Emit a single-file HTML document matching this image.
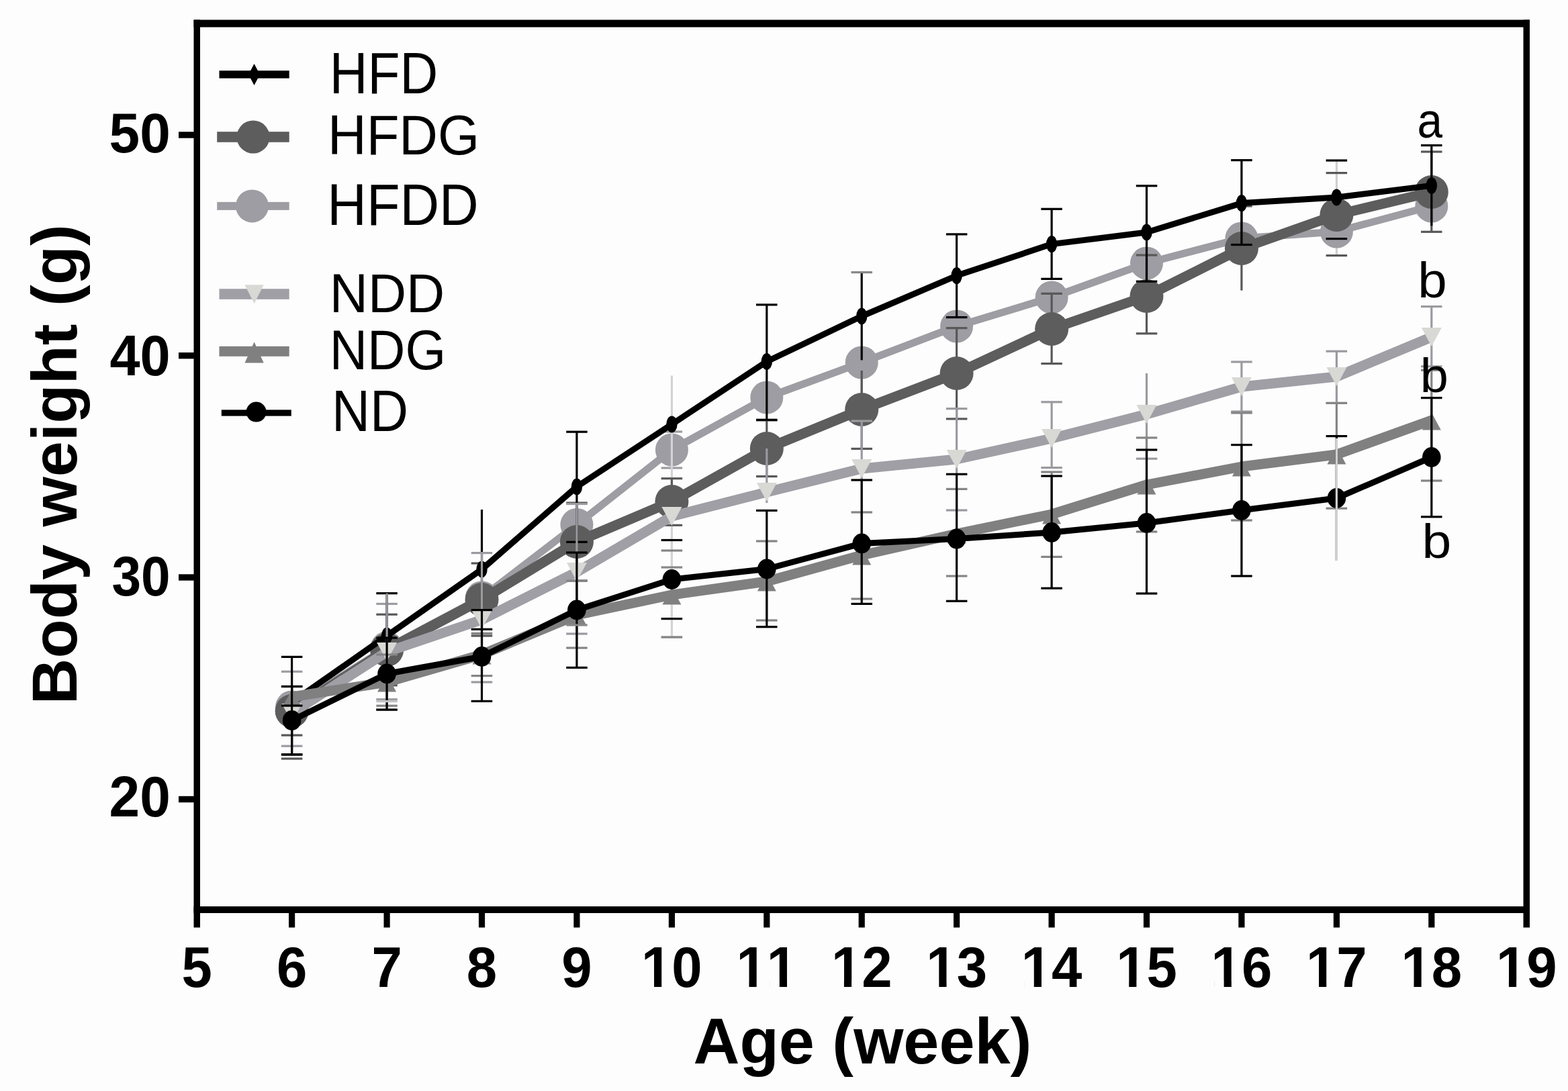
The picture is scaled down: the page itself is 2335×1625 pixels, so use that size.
<!DOCTYPE html>
<html><head><meta charset="utf-8"><title>Body weight chart</title>
<style>html,body{margin:0;padding:0;background:#fefdfd;}svg{display:block;}</style>
</head><body>
<svg width="2335" height="1625" viewBox="0 0 2335 1625">
<rect width="2335" height="1625" fill="#fefdfd"/>
<g id="plot">
<rect x="1988.8" y="239.0" width="3.2" height="141.0" fill="#cfcfd2"/>
<rect x="998.8" y="805.0" width="3.2" height="116.0" fill="#e6dede"/>
<rect x="433.0" y="1000.3" width="3.2" height="110.9" fill="#9c9ca2"/>
<rect x="418.9" y="998.7" width="31.5" height="3.2" fill="#9c9ca2"/>
<rect x="418.9" y="1109.6" width="31.5" height="3.2" fill="#9c9ca2"/>
<rect x="574.5" y="899.4" width="3.2" height="142.3" fill="#9c9ca2"/>
<rect x="560.3" y="897.8" width="31.5" height="3.2" fill="#9c9ca2"/>
<rect x="560.3" y="1040.1" width="31.5" height="3.2" fill="#9c9ca2"/>
<rect x="998.8" y="643.0" width="3.2" height="54.0" fill="#9c9ca2"/>
<rect x="984.6" y="641.4" width="31.5" height="3.2" fill="#9c9ca2"/>
<rect x="984.6" y="695.4" width="31.5" height="3.2" fill="#9c9ca2"/>
<rect x="1281.6" y="540.0" width="3.2" height="88.0" fill="#9c9ca2"/>
<rect x="1267.5" y="626.4" width="31.5" height="3.2" fill="#9c9ca2"/>
<polyline points="434.6,1053.0 576.1,965.0 717.5,890.0 858.9,781.5 1000.4,670.0 1141.8,592.0 1283.2,540.0 1424.6,486.0 1566.1,443.0 1707.5,392.0 1848.9,355.0 1990.4,345.0 2131.8,307.0" fill="none" stroke="#9d9da3" stroke-width="11" stroke-linejoin="round" stroke-linecap="butt"/>
<circle cx="434.6" cy="1053.0" r="24.5" fill="#9d9da3"/>
<circle cx="576.1" cy="965.0" r="24.5" fill="#9d9da3"/>
<circle cx="717.5" cy="890.0" r="24.5" fill="#9d9da3"/>
<circle cx="858.9" cy="781.5" r="24.5" fill="#9d9da3"/>
<circle cx="1000.4" cy="670.0" r="24.5" fill="#9d9da3"/>
<circle cx="1141.8" cy="592.0" r="24.5" fill="#9d9da3"/>
<circle cx="1283.2" cy="540.0" r="24.5" fill="#9d9da3"/>
<circle cx="1424.6" cy="486.0" r="24.5" fill="#9d9da3"/>
<circle cx="1566.1" cy="443.0" r="24.5" fill="#9d9da3"/>
<circle cx="1707.5" cy="392.0" r="24.5" fill="#9d9da3"/>
<circle cx="1848.9" cy="355.0" r="24.5" fill="#9d9da3"/>
<circle cx="1990.4" cy="345.0" r="24.5" fill="#9d9da3"/>
<circle cx="2131.8" cy="307.0" r="24.5" fill="#9d9da3"/>
<rect x="998.8" y="559.5" width="3.2" height="389.5" fill="#d4d2d6"/>
<rect x="984.6" y="947.4" width="31.5" height="3.2" fill="#d4d2d6"/>
<rect x="433.0" y="1022.5" width="3.2" height="72.6" fill="#585858"/>
<rect x="418.9" y="1020.9" width="31.5" height="3.2" fill="#585858"/>
<rect x="418.9" y="1093.5" width="31.5" height="3.2" fill="#585858"/>
<rect x="574.5" y="915.2" width="3.2" height="105.6" fill="#585858"/>
<rect x="560.3" y="913.6" width="31.5" height="3.2" fill="#585858"/>
<rect x="560.3" y="1019.2" width="31.5" height="3.2" fill="#585858"/>
<rect x="715.9" y="839.0" width="3.2" height="108.0" fill="#585858"/>
<rect x="701.7" y="837.4" width="31.5" height="3.2" fill="#585858"/>
<rect x="701.7" y="945.4" width="31.5" height="3.2" fill="#585858"/>
<rect x="857.3" y="749.0" width="3.2" height="116.0" fill="#585858"/>
<rect x="843.2" y="747.4" width="31.5" height="3.2" fill="#585858"/>
<rect x="843.2" y="863.4" width="31.5" height="3.2" fill="#585858"/>
<rect x="998.8" y="712.7" width="3.2" height="69.6" fill="#585858"/>
<rect x="984.6" y="711.1" width="31.5" height="3.2" fill="#585858"/>
<rect x="984.6" y="780.7" width="31.5" height="3.2" fill="#585858"/>
<rect x="1140.2" y="626.0" width="3.2" height="83.6" fill="#585858"/>
<rect x="1126.0" y="624.4" width="31.5" height="3.2" fill="#585858"/>
<rect x="1126.0" y="708.0" width="31.5" height="3.2" fill="#585858"/>
<rect x="1281.6" y="552.0" width="3.2" height="116.4" fill="#585858"/>
<rect x="1267.5" y="666.8" width="31.5" height="3.2" fill="#585858"/>
<rect x="1423.0" y="488.6" width="3.2" height="135.3" fill="#585858"/>
<rect x="1408.9" y="487.0" width="31.5" height="3.2" fill="#585858"/>
<rect x="1408.9" y="622.3" width="31.5" height="3.2" fill="#585858"/>
<rect x="1564.5" y="437.3" width="3.2" height="104.3" fill="#585858"/>
<rect x="1550.3" y="435.7" width="31.5" height="3.2" fill="#585858"/>
<rect x="1550.3" y="540.0" width="31.5" height="3.2" fill="#585858"/>
<rect x="1705.9" y="380.0" width="3.2" height="116.8" fill="#585858"/>
<rect x="1691.8" y="378.4" width="31.5" height="3.2" fill="#585858"/>
<rect x="1691.8" y="495.2" width="31.5" height="3.2" fill="#585858"/>
<rect x="1847.3" y="307.0" width="3.2" height="125.6" fill="#585858"/>
<rect x="1833.2" y="305.4" width="31.5" height="3.2" fill="#585858"/>
<rect x="1974.6" y="256.0" width="31.5" height="3.2" fill="#585858"/>
<rect x="1974.6" y="379.0" width="31.5" height="3.2" fill="#585858"/>
<rect x="2130.2" y="226.0" width="3.2" height="119.3" fill="#585858"/>
<rect x="2116.0" y="224.4" width="31.5" height="3.2" fill="#585858"/>
<rect x="2116.0" y="343.7" width="31.5" height="3.2" fill="#585858"/>
<polyline points="434.6,1059.0 576.1,968.0 717.5,893.0 858.9,807.0 1000.4,747.0 1141.8,668.0 1283.2,610.0 1424.6,556.0 1566.1,490.0 1707.5,441.0 1848.9,370.0 1990.4,320.0 2131.8,286.0" fill="none" stroke="#5d5d5d" stroke-width="15" stroke-linejoin="round" stroke-linecap="butt"/>
<circle cx="434.6" cy="1059.0" r="25" fill="#5d5d5d"/>
<circle cx="576.1" cy="968.0" r="25" fill="#5d5d5d"/>
<circle cx="717.5" cy="893.0" r="25" fill="#5d5d5d"/>
<circle cx="858.9" cy="807.0" r="25" fill="#5d5d5d"/>
<circle cx="1000.4" cy="747.0" r="25" fill="#5d5d5d"/>
<circle cx="1141.8" cy="668.0" r="25" fill="#5d5d5d"/>
<circle cx="1283.2" cy="610.0" r="25" fill="#5d5d5d"/>
<circle cx="1424.6" cy="556.0" r="25" fill="#5d5d5d"/>
<circle cx="1566.1" cy="490.0" r="25" fill="#5d5d5d"/>
<circle cx="1707.5" cy="441.0" r="25" fill="#5d5d5d"/>
<circle cx="1848.9" cy="370.0" r="25" fill="#5d5d5d"/>
<circle cx="1990.4" cy="320.0" r="25" fill="#5d5d5d"/>
<circle cx="2131.8" cy="286.0" r="25" fill="#5d5d5d"/>
<rect x="433.0" y="978.4" width="3.2" height="145.5" fill="#000000"/>
<rect x="418.9" y="976.8" width="31.5" height="3.2" fill="#000000"/>
<rect x="418.9" y="1122.3" width="31.5" height="3.2" fill="#000000"/>
<rect x="574.5" y="883.7" width="3.2" height="126.6" fill="#000000"/>
<rect x="560.3" y="882.1" width="31.5" height="3.2" fill="#000000"/>
<rect x="560.3" y="1008.7" width="31.5" height="3.2" fill="#000000"/>
<rect x="715.9" y="759.0" width="3.2" height="178.3" fill="#000000"/>
<rect x="701.7" y="935.7" width="31.5" height="3.2" fill="#000000"/>
<rect x="857.3" y="643.2" width="3.2" height="164.1" fill="#000000"/>
<rect x="843.2" y="641.6" width="31.5" height="3.2" fill="#000000"/>
<rect x="843.2" y="805.7" width="31.5" height="3.2" fill="#000000"/>
<rect x="1140.2" y="453.9" width="3.2" height="171.4" fill="#000000"/>
<rect x="1126.0" y="452.3" width="31.5" height="3.2" fill="#000000"/>
<rect x="1126.0" y="623.7" width="31.5" height="3.2" fill="#000000"/>
<rect x="1281.6" y="405.6" width="3.2" height="130.8" fill="#000000"/>
<rect x="1423.0" y="348.9" width="3.2" height="123.7" fill="#000000"/>
<rect x="1408.9" y="347.3" width="31.5" height="3.2" fill="#000000"/>
<rect x="1408.9" y="471.0" width="31.5" height="3.2" fill="#000000"/>
<rect x="1564.5" y="311.3" width="3.2" height="104.1" fill="#000000"/>
<rect x="1550.3" y="309.7" width="31.5" height="3.2" fill="#000000"/>
<rect x="1550.3" y="413.8" width="31.5" height="3.2" fill="#000000"/>
<rect x="1705.9" y="276.8" width="3.2" height="142.4" fill="#000000"/>
<rect x="1691.8" y="275.2" width="31.5" height="3.2" fill="#000000"/>
<rect x="1691.8" y="417.6" width="31.5" height="3.2" fill="#000000"/>
<rect x="1847.3" y="238.6" width="3.2" height="125.9" fill="#000000"/>
<rect x="1833.2" y="237.0" width="31.5" height="3.2" fill="#000000"/>
<rect x="1833.2" y="362.9" width="31.5" height="3.2" fill="#000000"/>
<rect x="1974.6" y="237.4" width="31.5" height="3.2" fill="#000000"/>
<rect x="1974.6" y="354.0" width="31.5" height="3.2" fill="#000000"/>
<rect x="2130.2" y="216.5" width="3.2" height="119.8" fill="#000000"/>
<rect x="2116.0" y="214.9" width="31.5" height="3.2" fill="#000000"/>
<polyline points="434.6,1046.0 576.1,947.0 717.5,848.0 858.9,725.0 1000.4,632.0 1141.8,538.5 1283.2,471.0 1424.6,410.6 1566.1,363.6 1707.5,346.0 1848.9,302.6 1990.4,294.0 2131.8,276.4" fill="none" stroke="#000000" stroke-width="9" stroke-linejoin="round" stroke-linecap="butt"/>
<ellipse cx="434.6" cy="1046.0" rx="8.2" ry="12.5" fill="#000"/>
<ellipse cx="576.1" cy="947.0" rx="8.2" ry="12.5" fill="#000"/>
<ellipse cx="717.5" cy="848.0" rx="8.2" ry="12.5" fill="#000"/>
<ellipse cx="858.9" cy="725.0" rx="8.2" ry="12.5" fill="#000"/>
<ellipse cx="1000.4" cy="632.0" rx="8.2" ry="12.5" fill="#000"/>
<ellipse cx="1141.8" cy="538.5" rx="8.2" ry="12.5" fill="#000"/>
<ellipse cx="1283.2" cy="471.0" rx="8.2" ry="12.5" fill="#000"/>
<ellipse cx="1424.6" cy="410.6" rx="8.2" ry="12.5" fill="#000"/>
<ellipse cx="1566.1" cy="363.6" rx="8.2" ry="12.5" fill="#000"/>
<ellipse cx="1707.5" cy="346.0" rx="8.2" ry="12.5" fill="#000"/>
<ellipse cx="1848.9" cy="302.6" rx="8.2" ry="12.5" fill="#000"/>
<ellipse cx="1990.4" cy="294.0" rx="8.2" ry="12.5" fill="#000"/>
<ellipse cx="2131.8" cy="276.4" rx="8.2" ry="12.5" fill="#000"/>
<rect x="574.5" y="883.7" width="3.2" height="173.4" fill="#9a9aa0"/>
<rect x="560.3" y="1055.5" width="31.5" height="3.2" fill="#9a9aa0"/>
<rect x="715.9" y="823.6" width="3.2" height="192.4" fill="#9a9aa0"/>
<rect x="701.7" y="822.0" width="31.5" height="3.2" fill="#9a9aa0"/>
<rect x="701.7" y="1014.4" width="31.5" height="3.2" fill="#9a9aa0"/>
<rect x="857.3" y="750.5" width="3.2" height="193.5" fill="#9a9aa0"/>
<rect x="843.2" y="748.9" width="31.5" height="3.2" fill="#9a9aa0"/>
<rect x="843.2" y="942.4" width="31.5" height="3.2" fill="#9a9aa0"/>
<rect x="1140.2" y="668.0" width="3.2" height="81.0" fill="#9a9aa0"/>
<rect x="1281.6" y="627.0" width="3.2" height="142.0" fill="#9a9aa0"/>
<rect x="1267.5" y="625.4" width="31.5" height="3.2" fill="#9a9aa0"/>
<rect x="1423.0" y="608.7" width="3.2" height="151.3" fill="#9a9aa0"/>
<rect x="1408.9" y="607.1" width="31.5" height="3.2" fill="#9a9aa0"/>
<rect x="1408.9" y="758.4" width="31.5" height="3.2" fill="#9a9aa0"/>
<rect x="1564.5" y="598.8" width="3.2" height="97.8" fill="#9a9aa0"/>
<rect x="1550.3" y="597.2" width="31.5" height="3.2" fill="#9a9aa0"/>
<rect x="1550.3" y="695.0" width="31.5" height="3.2" fill="#9a9aa0"/>
<rect x="1705.9" y="556.0" width="3.2" height="127.2" fill="#9a9aa0"/>
<rect x="1691.8" y="681.6" width="31.5" height="3.2" fill="#9a9aa0"/>
<rect x="1847.3" y="539.0" width="3.2" height="74.0" fill="#9a9aa0"/>
<rect x="1833.2" y="537.4" width="31.5" height="3.2" fill="#9a9aa0"/>
<rect x="1833.2" y="611.4" width="31.5" height="3.2" fill="#9a9aa0"/>
<rect x="1988.8" y="523.2" width="3.2" height="77.2" fill="#9a9aa0"/>
<rect x="1974.6" y="521.6" width="31.5" height="3.2" fill="#9a9aa0"/>
<rect x="1974.6" y="598.8" width="31.5" height="3.2" fill="#9a9aa0"/>
<rect x="2130.2" y="456.6" width="3.2" height="89.2" fill="#9a9aa0"/>
<rect x="2116.0" y="455.0" width="31.5" height="3.2" fill="#9a9aa0"/>
<rect x="2116.0" y="544.2" width="31.5" height="3.2" fill="#9a9aa0"/>
<polyline points="434.6,1062.0 576.1,971.0 717.5,923.0 858.9,852.0 1000.4,769.0 1141.8,733.0 1283.2,698.0 1424.6,684.0 1566.1,653.0 1707.5,617.0 1848.9,576.0 1990.4,561.0 2131.8,502.0" fill="none" stroke="#a09fa6" stroke-width="15" stroke-linejoin="round" stroke-linecap="butt"/>
<polygon points="419.6,1048.0 449.6,1048.0 434.6,1076.0" fill="#d8d8d4"/>
<polygon points="561.1,957.0 591.1,957.0 576.1,985.0" fill="#d8d8d4"/>
<polygon points="702.5,909.0 732.5,909.0 717.5,937.0" fill="#d8d8d4"/>
<polygon points="843.9,838.0 873.9,838.0 858.9,866.0" fill="#d8d8d4"/>
<polygon points="985.4,755.0 1015.4,755.0 1000.4,783.0" fill="#d8d8d4"/>
<polygon points="1126.8,719.0 1156.8,719.0 1141.8,747.0" fill="#d8d8d4"/>
<polygon points="1268.2,684.0 1298.2,684.0 1283.2,712.0" fill="#d8d8d4"/>
<polygon points="1409.6,670.0 1439.6,670.0 1424.6,698.0" fill="#d8d8d4"/>
<polygon points="1551.1,639.0 1581.1,639.0 1566.1,667.0" fill="#d8d8d4"/>
<polygon points="1692.5,603.0 1722.5,603.0 1707.5,631.0" fill="#d8d8d4"/>
<polygon points="1833.9,562.0 1863.9,562.0 1848.9,590.0" fill="#d8d8d4"/>
<polygon points="1975.4,547.0 2005.4,547.0 1990.4,575.0" fill="#d8d8d4"/>
<polygon points="2116.8,488.0 2146.8,488.0 2131.8,516.0" fill="#d8d8d4"/>
<rect x="574.5" y="975.0" width="3.2" height="76.2" fill="#858585"/>
<rect x="560.3" y="973.4" width="31.5" height="3.2" fill="#858585"/>
<rect x="560.3" y="1049.6" width="31.5" height="3.2" fill="#858585"/>
<rect x="715.9" y="943.4" width="3.2" height="63.2" fill="#858585"/>
<rect x="701.7" y="941.8" width="31.5" height="3.2" fill="#858585"/>
<rect x="701.7" y="1005.0" width="31.5" height="3.2" fill="#858585"/>
<rect x="857.3" y="865.0" width="3.2" height="100.0" fill="#858585"/>
<rect x="843.2" y="863.4" width="31.5" height="3.2" fill="#858585"/>
<rect x="843.2" y="963.4" width="31.5" height="3.2" fill="#858585"/>
<rect x="984.6" y="818.4" width="31.5" height="3.2" fill="#858585"/>
<rect x="984.6" y="947.4" width="31.5" height="3.2" fill="#858585"/>
<rect x="1140.2" y="806.0" width="3.2" height="118.0" fill="#858585"/>
<rect x="1126.0" y="804.4" width="31.5" height="3.2" fill="#858585"/>
<rect x="1126.0" y="922.4" width="31.5" height="3.2" fill="#858585"/>
<rect x="1281.6" y="763.0" width="3.2" height="129.0" fill="#858585"/>
<rect x="1267.5" y="761.4" width="31.5" height="3.2" fill="#858585"/>
<rect x="1267.5" y="890.4" width="31.5" height="3.2" fill="#858585"/>
<rect x="1423.0" y="728.4" width="3.2" height="129.6" fill="#858585"/>
<rect x="1408.9" y="726.8" width="31.5" height="3.2" fill="#858585"/>
<rect x="1408.9" y="856.4" width="31.5" height="3.2" fill="#858585"/>
<rect x="1564.5" y="703.0" width="3.2" height="126.4" fill="#858585"/>
<rect x="1550.3" y="701.4" width="31.5" height="3.2" fill="#858585"/>
<rect x="1550.3" y="827.8" width="31.5" height="3.2" fill="#858585"/>
<rect x="1705.9" y="652.0" width="3.2" height="140.0" fill="#858585"/>
<rect x="1691.8" y="650.4" width="31.5" height="3.2" fill="#858585"/>
<rect x="1691.8" y="790.4" width="31.5" height="3.2" fill="#858585"/>
<rect x="1847.3" y="615.0" width="3.2" height="160.0" fill="#858585"/>
<rect x="1833.2" y="613.4" width="31.5" height="3.2" fill="#858585"/>
<rect x="1833.2" y="773.4" width="31.5" height="3.2" fill="#858585"/>
<rect x="1988.8" y="600.4" width="3.2" height="156.8" fill="#858585"/>
<rect x="1974.6" y="598.8" width="31.5" height="3.2" fill="#858585"/>
<rect x="1974.6" y="755.6" width="31.5" height="3.2" fill="#858585"/>
<rect x="2130.2" y="551.3" width="3.2" height="164.7" fill="#858585"/>
<rect x="2116.0" y="549.7" width="31.5" height="3.2" fill="#858585"/>
<rect x="2116.0" y="714.4" width="31.5" height="3.2" fill="#858585"/>
<polyline points="434.6,1038.0 576.1,1016.0 717.5,975.0 858.9,916.0 1000.4,886.0 1141.8,866.0 1283.2,827.0 1424.6,795.0 1566.1,766.0 1707.5,722.0 1848.9,695.0 1990.4,677.0 2131.8,626.0" fill="none" stroke="#808080" stroke-width="15" stroke-linejoin="round" stroke-linecap="butt"/>
<polygon points="434.6,1026.5 448.6,1052.5 420.6,1052.5" fill="#808080"/>
<polygon points="576.1,1004.5 590.1,1030.5 562.1,1030.5" fill="#808080"/>
<polygon points="717.5,963.5 731.5,989.5 703.5,989.5" fill="#808080"/>
<polygon points="858.9,904.5 872.9,930.5 844.9,930.5" fill="#808080"/>
<polygon points="1000.4,874.5 1014.4,900.5 986.4,900.5" fill="#808080"/>
<polygon points="1141.8,854.5 1155.8,880.5 1127.8,880.5" fill="#808080"/>
<polygon points="1283.2,815.5 1297.2,841.5 1269.2,841.5" fill="#808080"/>
<polygon points="1424.6,783.5 1438.6,809.5 1410.6,809.5" fill="#808080"/>
<polygon points="1566.1,754.5 1580.1,780.5 1552.1,780.5" fill="#808080"/>
<polygon points="1707.5,710.5 1721.5,736.5 1693.5,736.5" fill="#808080"/>
<polygon points="1848.9,683.5 1862.9,709.5 1834.9,709.5" fill="#808080"/>
<polygon points="1990.4,665.5 2004.4,691.5 1976.4,691.5" fill="#808080"/>
<polygon points="2131.8,614.5 2145.8,640.5 2117.8,640.5" fill="#808080"/>
<rect x="433.0" y="1022.5" width="3.2" height="101.4" fill="#000000"/>
<rect x="418.9" y="1020.9" width="31.5" height="3.2" fill="#000000"/>
<rect x="418.9" y="1122.3" width="31.5" height="3.2" fill="#000000"/>
<rect x="574.5" y="950.0" width="3.2" height="107.1" fill="#000000"/>
<rect x="560.3" y="948.4" width="31.5" height="3.2" fill="#000000"/>
<rect x="560.3" y="1055.5" width="31.5" height="3.2" fill="#000000"/>
<rect x="715.9" y="908.6" width="3.2" height="135.8" fill="#000000"/>
<rect x="701.7" y="907.0" width="31.5" height="3.2" fill="#000000"/>
<rect x="701.7" y="1042.8" width="31.5" height="3.2" fill="#000000"/>
<rect x="857.3" y="823.0" width="3.2" height="171.4" fill="#000000"/>
<rect x="843.2" y="821.4" width="31.5" height="3.2" fill="#000000"/>
<rect x="843.2" y="992.8" width="31.5" height="3.2" fill="#000000"/>
<rect x="984.6" y="802.9" width="31.5" height="3.2" fill="#000000"/>
<rect x="984.6" y="920.0" width="31.5" height="3.2" fill="#000000"/>
<rect x="1140.2" y="760.4" width="3.2" height="173.3" fill="#000000"/>
<rect x="1126.0" y="758.8" width="31.5" height="3.2" fill="#000000"/>
<rect x="1126.0" y="932.1" width="31.5" height="3.2" fill="#000000"/>
<rect x="1281.6" y="715.0" width="3.2" height="184.4" fill="#000000"/>
<rect x="1267.5" y="713.4" width="31.5" height="3.2" fill="#000000"/>
<rect x="1267.5" y="897.8" width="31.5" height="3.2" fill="#000000"/>
<rect x="1423.0" y="706.3" width="3.2" height="189.0" fill="#000000"/>
<rect x="1408.9" y="704.7" width="31.5" height="3.2" fill="#000000"/>
<rect x="1408.9" y="893.7" width="31.5" height="3.2" fill="#000000"/>
<rect x="1564.5" y="709.0" width="3.2" height="167.2" fill="#000000"/>
<rect x="1550.3" y="707.4" width="31.5" height="3.2" fill="#000000"/>
<rect x="1550.3" y="874.6" width="31.5" height="3.2" fill="#000000"/>
<rect x="1705.9" y="670.0" width="3.2" height="214.0" fill="#000000"/>
<rect x="1691.8" y="668.4" width="31.5" height="3.2" fill="#000000"/>
<rect x="1691.8" y="882.4" width="31.5" height="3.2" fill="#000000"/>
<rect x="1847.3" y="662.6" width="3.2" height="195.4" fill="#000000"/>
<rect x="1833.2" y="661.0" width="31.5" height="3.2" fill="#000000"/>
<rect x="1833.2" y="856.4" width="31.5" height="3.2" fill="#000000"/>
<rect x="1988.8" y="649.6" width="3.2" height="185.4" fill="#000000"/>
<rect x="1974.6" y="648.0" width="31.5" height="3.2" fill="#000000"/>
<rect x="2130.2" y="592.6" width="3.2" height="177.2" fill="#000000"/>
<rect x="2116.0" y="591.0" width="31.5" height="3.2" fill="#000000"/>
<rect x="2116.0" y="768.2" width="31.5" height="3.2" fill="#000000"/>
<polyline points="434.6,1073.0 576.1,1003.5 717.5,978.0 858.9,908.5 1000.4,863.0 1141.8,847.5 1283.2,809.5 1424.6,802.6 1566.1,793.0 1707.5,779.0 1848.9,760.0 1990.4,742.0 2131.8,681.0" fill="none" stroke="#000000" stroke-width="9" stroke-linejoin="round" stroke-linecap="butt"/>
<ellipse cx="434.6" cy="1073.0" rx="13.8" ry="15" fill="#000"/>
<ellipse cx="576.1" cy="1003.5" rx="13.8" ry="15" fill="#000"/>
<ellipse cx="717.5" cy="978.0" rx="13.8" ry="15" fill="#000"/>
<ellipse cx="858.9" cy="908.5" rx="13.8" ry="15" fill="#000"/>
<ellipse cx="1000.4" cy="863.0" rx="13.8" ry="15" fill="#000"/>
<ellipse cx="1141.8" cy="847.5" rx="13.8" ry="15" fill="#000"/>
<ellipse cx="1283.2" cy="809.5" rx="13.8" ry="15" fill="#000"/>
<ellipse cx="1424.6" cy="802.6" rx="13.8" ry="15" fill="#000"/>
<ellipse cx="1566.1" cy="793.0" rx="13.8" ry="15" fill="#000"/>
<ellipse cx="1707.5" cy="779.0" rx="13.8" ry="15" fill="#000"/>
<ellipse cx="1848.9" cy="760.0" rx="13.8" ry="15" fill="#000"/>
<ellipse cx="1990.4" cy="742.0" rx="13.8" ry="15" fill="#000"/>
<ellipse cx="2131.8" cy="681.0" rx="13.8" ry="15" fill="#000"/>
<rect x="418.9" y="1049.4" width="31.5" height="3.2" fill="#000000"/>
<rect x="1267.5" y="404.0" width="31.5" height="3.2" fill="#888888"/>
<rect x="418.9" y="1128.4" width="31.5" height="3.2" fill="#555555"/>
<rect x="843.2" y="929.4" width="31.5" height="3.2" fill="#888888"/>
<rect x="984.6" y="843.4" width="31.5" height="3.2" fill="#888888"/>
<rect x="560.3" y="1043.0" width="31.5" height="3.2" fill="#c4c4c4"/>
<rect x="1988.8" y="653.0" width="3.2" height="182.0" fill="#cfcfd2"/>
</g>
<g id="legend">
<rect x="326.5" y="105.2" width="104.2" height="11.4" fill="#000"/>
<polygon points="378.5,95.0 387.0,111.0 378.5,127.0 370.0,111.0" fill="#000000"/>
<rect x="323.2" y="196.2" width="107.5" height="15.6" fill="#5d5d5d"/>
<circle cx="377.0" cy="204.0" r="24.5" fill="#5d5d5d"/>
<rect x="323.2" y="300.9" width="107.5" height="12" fill="#9d9da3"/>
<circle cx="375.5" cy="306.9" r="24.5" fill="#9d9da3"/>
<rect x="326.5" y="430.2" width="104.2" height="15.6" fill="#a09fa6"/>
<polygon points="364.5,424.2 392.7,424.2 378.6,452.2" fill="#d8d8d4"/>
<rect x="326.5" y="515.8" width="104.2" height="15" fill="#808080"/>
<polygon points="378.6,509.3 392.7,540.4 364.5,540.4" fill="#808080"/>
<rect x="329.8" y="610.4" width="104" height="9.2" fill="#000"/>
<circle cx="381.6" cy="613.6" r="15" fill="#000000"/>
<text transform="matrix(0.7855,0,0,0.8623,490.72,138.90)" style="font-family:'Liberation Sans',Arial,sans-serif;font-size:100px">HFD</text>
<text transform="matrix(0.7978,0,0,0.8394,488.02,229.76)" style="font-family:'Liberation Sans',Arial,sans-serif;font-size:100px">HFDG</text>
<text transform="matrix(0.8113,0,0,0.8652,487.31,334.90)" style="font-family:'Liberation Sans',Arial,sans-serif;font-size:100px">HFDD</text>
<text transform="matrix(0.7912,0,0,0.8188,490.77,464.50)" style="font-family:'Liberation Sans',Arial,sans-serif;font-size:100px">NDD</text>
<text transform="matrix(0.7802,0,0,0.8310,490.76,550.17)" style="font-family:'Liberation Sans',Arial,sans-serif;font-size:100px">NDG</text>
<text transform="matrix(0.7894,0,0,0.8623,493.88,641.70)" style="font-family:'Liberation Sans',Arial,sans-serif;font-size:100px">ND</text>
</g>
<g id="frame">

<rect x="288.5" y="29.5" width="1989.5" height="11" fill="#000"/>
<rect x="288.5" y="1350" width="1989.5" height="10" fill="#000"/>
<rect x="288.5" y="29.5" width="9.5" height="1352" fill="#000"/>
<rect x="2268.5" y="29.5" width="9.5" height="1352" fill="#000"/>

<rect x="430.0" y="1355" width="9.2" height="26.5" fill="#000"/>
<rect x="571.5" y="1355" width="9.2" height="26.5" fill="#000"/>
<rect x="712.9" y="1355" width="9.2" height="26.5" fill="#000"/>
<rect x="854.3" y="1355" width="9.2" height="26.5" fill="#000"/>
<rect x="995.8" y="1355" width="9.2" height="26.5" fill="#000"/>
<rect x="1137.2" y="1355" width="9.2" height="26.5" fill="#000"/>
<rect x="1278.6" y="1355" width="9.2" height="26.5" fill="#000"/>
<rect x="1420.0" y="1355" width="9.2" height="26.5" fill="#000"/>
<rect x="1561.5" y="1355" width="9.2" height="26.5" fill="#000"/>
<rect x="1702.9" y="1355" width="9.2" height="26.5" fill="#000"/>
<rect x="1844.3" y="1355" width="9.2" height="26.5" fill="#000"/>
<rect x="1985.8" y="1355" width="9.2" height="26.5" fill="#000"/>
<rect x="2127.2" y="1355" width="9.2" height="26.5" fill="#000"/>
<rect x="266" y="196.3" width="25" height="9.4" fill="#000"/>
<rect x="266" y="525.0" width="25" height="9.4" fill="#000"/>
<rect x="266" y="855.3" width="25" height="9.4" fill="#000"/>
<rect x="266" y="1185.8" width="25" height="9.4" fill="#000"/>
</g>
<g id="labels">
<g transform="matrix(0.8149,0,0,0.8543,293.20,1469.8)"><text x="0" y="0" text-anchor="middle" style="font-family:'Liberation Sans',Arial,sans-serif;font-weight:bold;font-kerning:none;font-size:100px">5</text></g>
<g transform="matrix(0.8149,0,0,0.8543,434.63,1469.8)"><text x="0" y="0" text-anchor="middle" style="font-family:'Liberation Sans',Arial,sans-serif;font-weight:bold;font-kerning:none;font-size:100px">6</text></g>
<g transform="matrix(0.8149,0,0,0.8543,576.06,1469.8)"><text x="0" y="0" text-anchor="middle" style="font-family:'Liberation Sans',Arial,sans-serif;font-weight:bold;font-kerning:none;font-size:100px">7</text></g>
<g transform="matrix(0.8149,0,0,0.8543,717.49,1469.8)"><text x="0" y="0" text-anchor="middle" style="font-family:'Liberation Sans',Arial,sans-serif;font-weight:bold;font-kerning:none;font-size:100px">8</text></g>
<g transform="matrix(0.8149,0,0,0.8543,858.92,1469.8)"><text x="0" y="0" text-anchor="middle" style="font-family:'Liberation Sans',Arial,sans-serif;font-weight:bold;font-kerning:none;font-size:100px">9</text></g>
<g transform="matrix(0.8149,0,0,0.8543,1000.35,1469.8)"><text x="0" y="0" text-anchor="middle" style="font-family:'Liberation Sans',Arial,sans-serif;font-weight:bold;font-kerning:none;font-size:100px">10</text><rect x="-50.00" y="-10.45" width="17.72" height="11.23" fill="#fefdfd"/><rect x="-18.55" y="-10.45" width="16.65" height="11.23" fill="#fefdfd"/></g>
<g transform="matrix(0.8149,0,0,0.8543,1141.78,1469.8)"><text x="0" y="0" text-anchor="middle" style="font-family:'Liberation Sans',Arial,sans-serif;font-weight:bold;font-kerning:none;font-size:100px">11</text><rect x="-50.00" y="-10.45" width="17.72" height="11.23" fill="#fefdfd"/><rect x="-18.55" y="-10.45" width="16.65" height="11.23" fill="#fefdfd"/><rect x="5.62" y="-10.45" width="17.72" height="11.23" fill="#fefdfd"/><rect x="37.06" y="-10.45" width="16.65" height="11.23" fill="#fefdfd"/></g>
<g transform="matrix(0.8149,0,0,0.8543,1283.21,1469.8)"><text x="0" y="0" text-anchor="middle" style="font-family:'Liberation Sans',Arial,sans-serif;font-weight:bold;font-kerning:none;font-size:100px">12</text><rect x="-50.00" y="-10.45" width="17.72" height="11.23" fill="#fefdfd"/><rect x="-18.55" y="-10.45" width="16.65" height="11.23" fill="#fefdfd"/></g>
<g transform="matrix(0.8149,0,0,0.8543,1424.64,1469.8)"><text x="0" y="0" text-anchor="middle" style="font-family:'Liberation Sans',Arial,sans-serif;font-weight:bold;font-kerning:none;font-size:100px">13</text><rect x="-50.00" y="-10.45" width="17.72" height="11.23" fill="#fefdfd"/><rect x="-18.55" y="-10.45" width="16.65" height="11.23" fill="#fefdfd"/></g>
<g transform="matrix(0.8149,0,0,0.8543,1566.07,1469.8)"><text x="0" y="0" text-anchor="middle" style="font-family:'Liberation Sans',Arial,sans-serif;font-weight:bold;font-kerning:none;font-size:100px">14</text><rect x="-50.00" y="-10.45" width="17.72" height="11.23" fill="#fefdfd"/><rect x="-18.55" y="-10.45" width="16.65" height="11.23" fill="#fefdfd"/></g>
<g transform="matrix(0.8149,0,0,0.8543,1707.50,1469.8)"><text x="0" y="0" text-anchor="middle" style="font-family:'Liberation Sans',Arial,sans-serif;font-weight:bold;font-kerning:none;font-size:100px">15</text><rect x="-50.00" y="-10.45" width="17.72" height="11.23" fill="#fefdfd"/><rect x="-18.55" y="-10.45" width="16.65" height="11.23" fill="#fefdfd"/></g>
<g transform="matrix(0.8149,0,0,0.8543,1848.93,1469.8)"><text x="0" y="0" text-anchor="middle" style="font-family:'Liberation Sans',Arial,sans-serif;font-weight:bold;font-kerning:none;font-size:100px">16</text><rect x="-50.00" y="-10.45" width="17.72" height="11.23" fill="#fefdfd"/><rect x="-18.55" y="-10.45" width="16.65" height="11.23" fill="#fefdfd"/></g>
<g transform="matrix(0.8149,0,0,0.8543,1990.36,1469.8)"><text x="0" y="0" text-anchor="middle" style="font-family:'Liberation Sans',Arial,sans-serif;font-weight:bold;font-kerning:none;font-size:100px">17</text><rect x="-50.00" y="-10.45" width="17.72" height="11.23" fill="#fefdfd"/><rect x="-18.55" y="-10.45" width="16.65" height="11.23" fill="#fefdfd"/></g>
<g transform="matrix(0.8149,0,0,0.8543,2131.79,1469.8)"><text x="0" y="0" text-anchor="middle" style="font-family:'Liberation Sans',Arial,sans-serif;font-weight:bold;font-kerning:none;font-size:100px">18</text><rect x="-50.00" y="-10.45" width="17.72" height="11.23" fill="#fefdfd"/><rect x="-18.55" y="-10.45" width="16.65" height="11.23" fill="#fefdfd"/></g>
<g transform="matrix(0.8149,0,0,0.8543,2273.22,1469.8)"><text x="0" y="0" text-anchor="middle" style="font-family:'Liberation Sans',Arial,sans-serif;font-weight:bold;font-kerning:none;font-size:100px">19</text><rect x="-50.00" y="-10.45" width="17.72" height="11.23" fill="#fefdfd"/><rect x="-18.55" y="-10.45" width="16.65" height="11.23" fill="#fefdfd"/></g>
<text transform="matrix(0.8202,0,0,0.8394,162.54,226.86)" style="font-family:'Liberation Sans',Arial,sans-serif;font-weight:bold;font-size:100px">50</text>
<text transform="matrix(0.8105,0,0,0.8465,163.38,558.75)" style="font-family:'Liberation Sans',Arial,sans-serif;font-weight:bold;font-size:100px">40</text>
<text transform="matrix(0.7838,0,0,0.8408,166.43,887.16)" style="font-family:'Liberation Sans',Arial,sans-serif;font-weight:bold;font-size:100px">30</text>
<text transform="matrix(0.8202,0,0,0.8437,162.54,1216.16)" style="font-family:'Liberation Sans',Arial,sans-serif;font-weight:bold;font-size:100px">20</text>
<text transform="matrix(0.9544,0,0,0.9606,1032.54,1584.23)" style="font-family:'Liberation Sans',Arial,sans-serif;font-weight:bold;font-size:100px">Age (week)</text>
<text transform="translate(113.57,1049.38) rotate(-90) scale(0.9539,0.9394)" style="font-family:'Liberation Sans',Arial,sans-serif;font-weight:bold;font-size:100px">Body weight (g)</text>
<text transform="matrix(0.6750,0,0,0.7436,2110.50,204.96)" style="font-family:'Liberation Sans',Arial,sans-serif;font-size:100px">a</text>
<text transform="matrix(0.7818,0,0,0.7356,2111.33,442.60)" style="font-family:'Liberation Sans',Arial,sans-serif;font-size:100px">b</text>
<text transform="matrix(0.7568,0,0,0.7260,2114.70,584.40)" style="font-family:'Liberation Sans',Arial,sans-serif;font-size:100px">b</text>
<text transform="matrix(0.7864,0,0,0.7288,2117.50,831.10)" style="font-family:'Liberation Sans',Arial,sans-serif;font-size:100px">b</text>
</g>
</svg>
</body></html>
